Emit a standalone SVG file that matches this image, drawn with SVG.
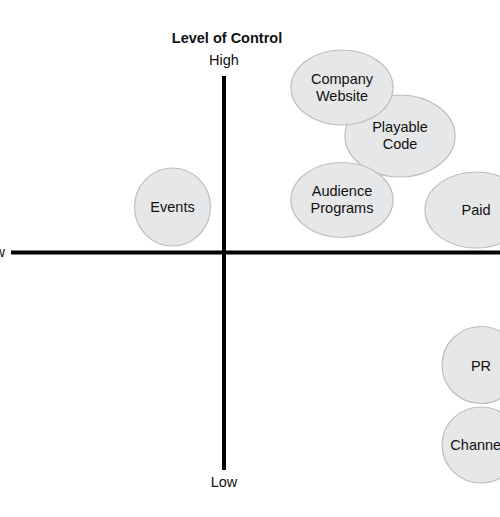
<svg xmlns="http://www.w3.org/2000/svg" width="500" height="517" viewBox="0 0 500 517">
<style>
.n{fill:#e6e7e8;stroke:#bcbdbf;stroke-width:1.2}
text{font-family:"Liberation Sans",Arial,sans-serif;font-size:14.5px;fill:#111;text-anchor:middle}
.b{font-weight:bold}
.ax{stroke:#000;stroke-width:4}
</style>
<rect width="500" height="517" fill="#fff"/>
<g id="axes">
<line class="ax" x1="224" y1="76" x2="224" y2="470"/>
<line class="ax" x1="11" y1="252.5" x2="500" y2="252.5"/>
</g>
<text class="b" x="227" y="43">Level of Control</text>
<text x="224" y="65">High</text>
<text x="224" y="487">Low</text>
<text x="5" y="257" style="text-anchor:end">Low</text>
<g id="playable"><ellipse class="n" cx="400" cy="136" rx="55" ry="41"/><text x="400" y="132">Playable</text><text x="400" y="149">Code</text></g>
<g id="company"><ellipse class="n" cx="342" cy="87.5" rx="51" ry="37.5"/><text x="342" y="84">Company</text><text x="342" y="101">Website</text></g>
<g id="audience"><ellipse class="n" cx="342" cy="200" rx="51" ry="37.5"/><text x="342" y="196">Audience</text><text x="342" y="213">Programs</text></g>
<g id="events"><ellipse class="n" cx="172.5" cy="207" rx="38" ry="39"/><text x="172.5" y="212">Events</text></g>
<g id="paid"><ellipse class="n" cx="476" cy="210" rx="51" ry="38"/><text x="476" y="215">Paid</text></g>
<g id="pr"><ellipse class="n" cx="481" cy="365" rx="39" ry="38.5"/><text x="481" y="371">PR</text></g>
<g id="channels"><ellipse class="n" cx="481" cy="445" rx="39" ry="38"/><text x="481" y="450">Channels</text></g>
<g id="connectors"></g>
</svg>
